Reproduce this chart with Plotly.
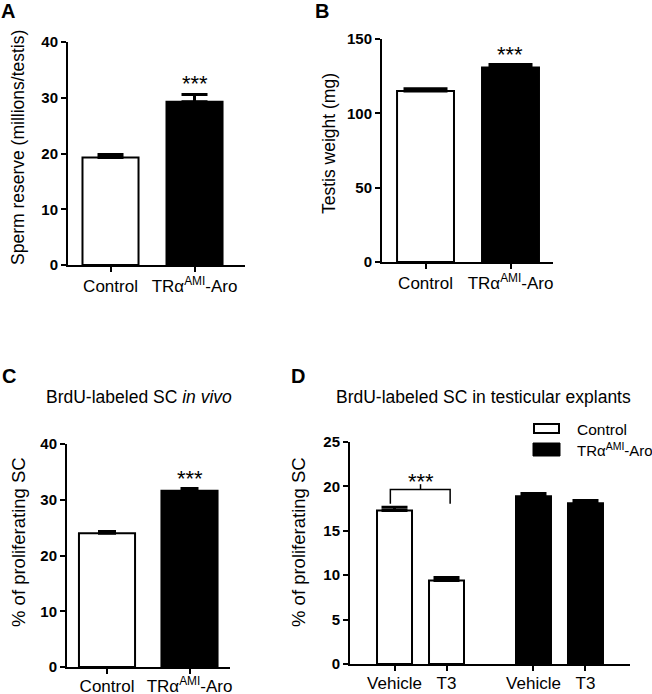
import plotly.graph_objects as go

# ---------------- data ----------------
groups_ab = ["Control", "TRα<sup>AMI</sup>-Aro"]
sperm_mean = [19.3, 29.3]
sperm_sem = [0.5, 1.3]
weight_mean = [115.0, 130.8]
weight_sem = [1.5, 2.0]
invivo_mean = [24.0, 31.6]
invivo_sem = [0.3, 0.4]
treatments = ["Vehicle", "T3"]
explant_control_mean = [17.3, 9.4]
explant_control_sem = [0.35, 0.35]
explant_tr_mean = [18.9, 18.1]
explant_tr_sem = [0.3, 0.3]
legend_labels = ["Control", "TRα<sup>AMI</sup>-Aro"]

W, H = 652, 694
FONT = "Liberation Sans, Arial, sans-serif"
fill = ["white", "black"]


def px(x):
    return x / W


def py(y):
    return 1 - y / H


fig = go.Figure()


def add_two_bar(xa, ya, means, sems, width, capw):
    fig.add_trace(go.Bar(
        x=list(range(len(means))), y=means, width=width,
        marker=dict(color=fill, line=dict(color="black", width=2)),
        error_y=dict(type="data", array=sems, arrayminus=[0] * len(sems), symmetric=False,
                     color="black", thickness=3, width=capw),
        xaxis=xa, yaxis=ya, showlegend=False, hoverinfo="skip",
    ))


add_two_bar("x", "y", sperm_mean, sperm_sem, 0.667, 13)
add_two_bar("x2", "y2", weight_mean, weight_sem, 0.67, 22)
add_two_bar("x3", "y3", invivo_mean, invivo_sem, 0.68, 9)

# panel D
gap = 2.673
xd_ctrl = [i for i in range(len(treatments))]
xd_tr = [gap + i for i in range(len(treatments))]
for xs, means, sems, col in [(xd_ctrl, explant_control_mean, explant_control_sem, "white"),
                             (xd_tr, explant_tr_mean, explant_tr_sem, "black")]:
    fig.add_trace(go.Bar(
        x=xs, y=means, width=0.673,
        marker=dict(color=col, line=dict(color="black", width=2)),
        error_y=dict(type="data", array=sems, arrayminus=[0] * len(sems), symmetric=False,
                     color="black", thickness=3, width=13),
        xaxis="x4", yaxis="y4", showlegend=False, hoverinfo="skip",
    ))


def xax(domain, rng, tickvals, ticktext, anchor, standoff=0):
    return dict(domain=domain, range=rng, anchor=anchor, showline=True, linecolor="black",
                linewidth=2, ticks="outside", ticklen=5, tickwidth=2, tickcolor="black",
                tickvals=tickvals, ticktext=ticktext, showgrid=False, zeroline=False,
                automargin=False, ticklabelstandoff=standoff,
                tickfont=dict(family=FONT, size=17, color="black"), fixedrange=True)


def yax(domain, rng, dtick, anchor):
    return dict(domain=domain, range=rng, anchor=anchor, showline=True, linecolor="black",
                linewidth=2, ticks="outside", ticklen=5, tickwidth=2, tickcolor="black",
                dtick=dtick, tick0=0, showgrid=False, zeroline=False, automargin=False,
                tickfont=dict(family=FONT, size=15, color="black", weight="bold"), fixedrange=True)


fig.update_layout(
    template="none",
    width=W, height=H, margin=dict(l=0, r=0, t=0, b=0, autoexpand=False),
    paper_bgcolor="white", plot_bgcolor="white",
    font=dict(family=FONT, color="black"),
    bargap=0,
    xaxis=xax([px(68), px(245)], [-0.506, 1.601], [0, 1], groups_ab, "y"),
    yaxis=yax([py(265), py(42)], [0, 40], 10, "x"),
    xaxis2=xax([px(382), px(553)], [-0.512, 1.5], [0, 1], groups_ab, "y2"),
    yaxis2=yax([py(262), py(39)], [0, 150], 50, "x2"),
    xaxis3=xax([px(67), px(230)], [-0.485, 1.491], [0, 1], groups_ab, "y3", standoff=-2),
    yaxis3=yax([py(667), py(444)], [0, 40], 10, "x3"),
    xaxis4=xax([px(350), px(630)], [-0.856, 4.529], xd_ctrl + xd_tr, treatments * 2, "y4", standoff=-2),
    yaxis4=yax([py(664), py(442)], [0, 25], 5, "x4"),
)

ann = []


def note(text, x, y, size, xanchor="center", yanchor="middle", **kw):
    d = dict(text=text, x=x, y=y, xref="paper", yref="paper", xanchor=xanchor, yanchor=yanchor,
             showarrow=False, font=dict(size=size, family=FONT, color="black"))
    d.update(kw)
    ann.append(d)


# panel letters
for letter, (lx, ly) in zip("ABCD", [(8, 11), (322, 11), (9, 376), (298, 376)]):
    note(f"<b>{letter}</b>", px(lx), py(ly), 20)
# y axis titles
for txt, (lx, ly), sz in zip(["Sperm reserve (millions/testis)", "Testis weight (mg)",
                              "% of proliferating SC", "% of proliferating SC"],
                             [(18, 148), (329, 144), (18, 542), (298, 542)],
                             [17.5, 17.5, 18.5, 18.5]):
    note(txt, px(lx), py(ly), sz, textangle=-90)
# panel titles
note("BrdU-labeled SC <i>in vivo</i>", px(139), py(397), 17.5)
note("BrdU-labeled SC in testicular explants", px(483), py(397), 17.5)

# significance stars
for xa, ya, means, sems in [("x", "y", sperm_mean, sperm_sem), ("x2", "y2", weight_mean, weight_sem),
                            ("x3", "y3", invivo_mean, invivo_sem)]:
    ann.append(dict(text="***", x=1, y=means[1] + sems[1], xref=xa, yref=ya, xanchor="center",
                    yanchor="bottom", yshift=-4, showarrow=False, font=dict(size=22, family=FONT)))

# bracket in D
top_d = max(m + s for m, s in zip(explant_control_mean, explant_control_sem))
yb = top_d + 2.0
xm = (xd_ctrl[0] + xd_ctrl[1]) / 2
shapes = [
    dict(type="path", xref="x4", yref="y4",
         path=f"M {xd_ctrl[0] - 0.08},{yb - 1.6} L {xd_ctrl[0] - 0.08},{yb} L {xd_ctrl[1] + 0.07},{yb} L {xd_ctrl[1] + 0.07},{yb - 1.6}",
         line=dict(color="black", width=1.5)),
    dict(type="line", xref="x4", yref="y4", x0=xm, x1=xm, y0=yb, y1=yb + 0.6,
         line=dict(color="black", width=1.5)),
]
ann.append(dict(text="***", x=xm, y=yb, xref="x4", yref="y4", xanchor="center",
                yanchor="bottom", yshift=-6, showarrow=False, font=dict(size=22, family=FONT)))

# legend (D)
shapes.append(dict(type="rect", xref="paper", yref="paper", x0=px(534), x1=px(559), y0=py(433), y1=py(424),
                   fillcolor="white", line=dict(color="black", width=2)))
shapes.append(dict(type="rect", xref="paper", yref="paper", x0=px(533), x1=px(560), y0=py(456), y1=py(443),
                   fillcolor="black", line=dict(color="black", width=1)))
note(legend_labels[0], px(575), py(429), 15.5, xanchor="left")
note(legend_labels[1], px(575), py(449), 15, xanchor="left")

fig.update_layout(annotations=ann, shapes=shapes)
fig.write_html("out.html", config={"displayModeBar": False, "staticPlot": True},
               post_script="document.body.style.margin='0';")
